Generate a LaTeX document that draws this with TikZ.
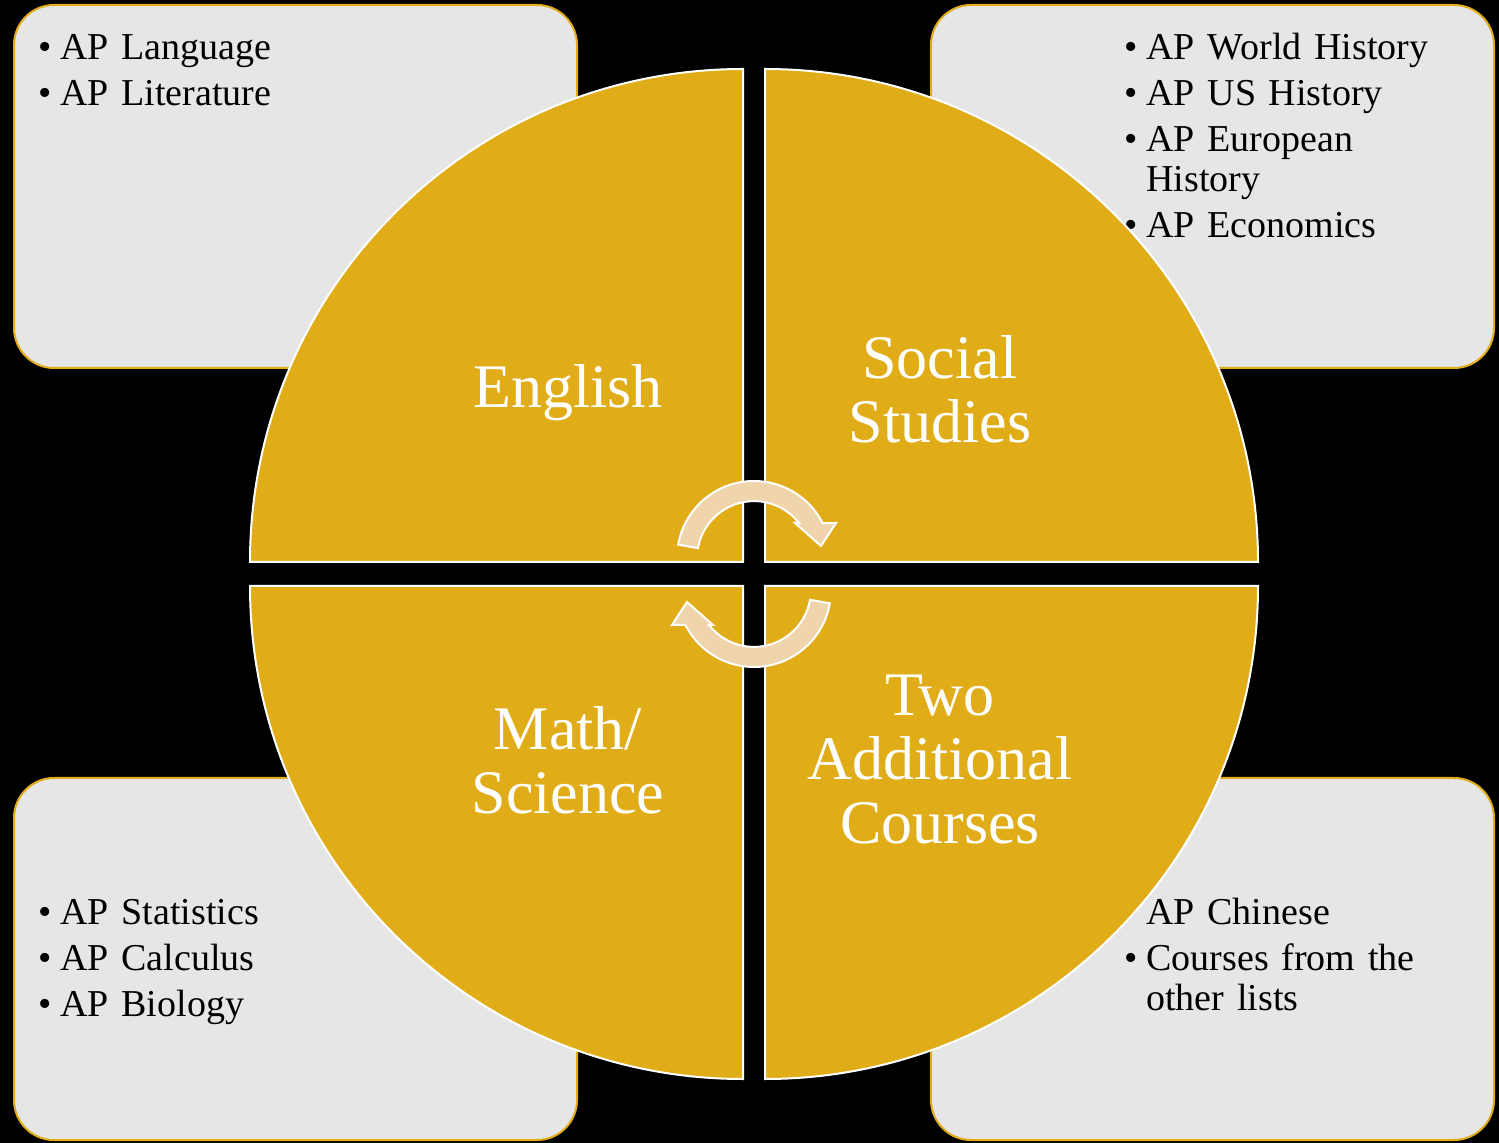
\documentclass[tikz,border=0pt]{standalone}
\usepackage{fontspec}
\setmainfont{Liberation Serif}[WordSpace=0.8]
\definecolor{gold}{HTML}{E0AC18}
\definecolor{boxgray}{HTML}{E6E6E6}
\definecolor{arrowtan}{HTML}{F0D4AC}
\newcommand{\apitem}[1]{\hangindent=11pt\hangafter=1\noindent\makebox[11pt][l]{\textbullet}#1\par}
\tikzset{
  listbox/.style={fill=boxgray, draw=gold, line width=1pt, rounded corners=20pt},
  listtext/.style={anchor=base west, text width=220pt, align=left, inner sep=0pt,
    font=\fontsize{19}{20}\selectfont\setlength{\parskip}{3pt}},
  quarter/.style={fill=gold, draw=white, line width=1pt},
  bigtext/.style={text=white, align=center, font=\fontsize{31}{32}\selectfont},
  cyclearrow/.style={fill=arrowtan, draw=white, line width=1pt}
}

\begin{document}
\begin{tikzpicture}[x=0.5pt, y=-0.5pt]
\fill[black] (0,0) rectangle (1499,1143);
\useasboundingbox (0,0) rectangle (1499,1143);

% corner boxes
\filldraw[listbox] (14,5) rectangle (577,368);
\filldraw[listbox] (931,5) rectangle (1494,368);
\filldraw[listbox] (14,778) rectangle (577,1140);
\filldraw[listbox] (931,778) rectangle (1494,1140);
\node[listtext] (englist) at (38,60) {\apitem{AP Language}\apitem{AP Literature}};
\node[listtext] (soclist) at (1124,60) {\apitem{AP World History}\apitem{AP US History}%
  \apitem{AP European\newline History}\apitem{AP Economics}};
\node[listtext] (mathlist) at (38,924) {\apitem{AP Statistics}\apitem{AP Calculus}\apitem{AP Biology}};
\node[listtext] (addlist) at (1124,924) {\apitem{AP Chinese}\apitem{Courses from the\newline other lists}};

% four quarters
\filldraw[quarter] (743,562) -- +(-493,0) arc[start angle=180, end angle=270, radius=493] -- cycle;
\filldraw[quarter] (765,562) -- +(0,-493) arc[start angle=270, end angle=360, radius=493] -- cycle;
\filldraw[quarter] (743,586) -- +(-493,0) arc[start angle=180, end angle=90, radius=493] -- cycle;
\filldraw[quarter] (765,586) -- +(493,0) arc[start angle=0, end angle=90, radius=493] -- cycle;

\node[bigtext] (english) at (568,393) {English};
\node[bigtext] (social) at (940,389) {Social\\Studies};
\node[bigtext] (mathsci) at (568,760) {Math/\\Science};
\node[bigtext] (twoadd) at (940,760) {Two\\Additional\\Courses};

% cycle arrows
\filldraw[cyclearrow] (754,558) ++(190:77) arc[start angle=190, end angle=333, radius=77]
  -- (836,523) -- (821,546) -- (795,523) -- (799,523)
  arc[start angle=322, end angle=190, radius=57] -- cycle;
\begin{scope}[rotate around={180:(754,574)}]
\filldraw[cyclearrow] (754,558) ++(190:77) arc[start angle=190, end angle=333, radius=77]
  -- (836,523) -- (821,546) -- (795,523) -- (799,523)
  arc[start angle=322, end angle=190, radius=57] -- cycle;
\end{scope}
\end{tikzpicture}
\end{document}
